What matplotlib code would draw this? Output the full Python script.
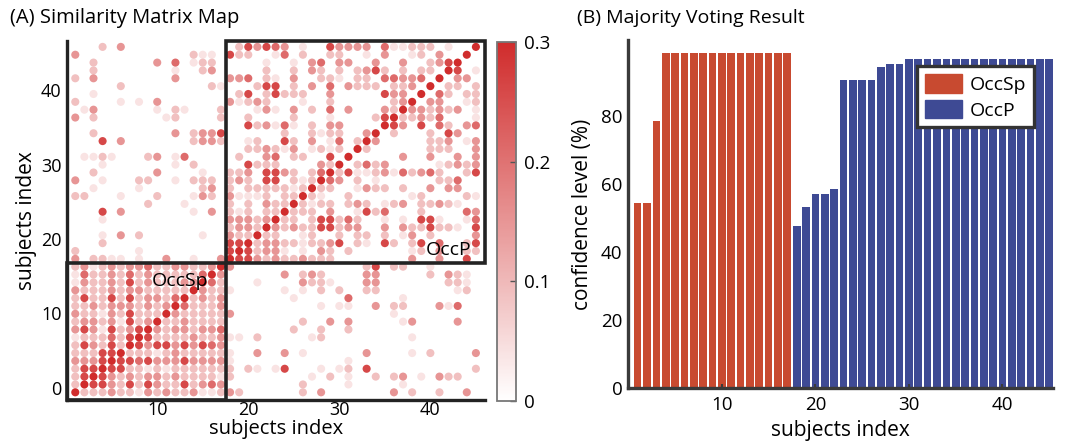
import numpy as np
import matplotlib
matplotlib.use("Agg")
import matplotlib.pyplot as plt
from matplotlib.colors import LinearSegmentedColormap
from matplotlib.patches import Rectangle, Patch

plt.rcParams['font.family'] = ['Open Sans', 'DejaVu Sans']

# ---- data ----
n_subj = 45
n_occsp = 17

# similarity levels (lower-left half, row: "col:level ...")
level_val = {1: 0.04, 2: 0.09, 3: 0.15, 4: 0.21, 5: 0.26, 6: 0.3}
lower_rows = {
    45: "4:2 6:3 19:2 20:5 21:3 22:5 23:4 24:3 26:1 29:5 30:3 31:3 32:3 33:3 35:4 36:1 37:1 38:2 39:2 40:2 42:1 45:6",
    44: "1:3 14:2 15:1 16:1 18:5 19:2 20:2 23:1 24:4 26:2 29:2 30:2 33:1 35:3 38:1 39:2 41:3 44:6",
    43: "3:2 10:3 12:4 14:1 15:2 16:2 22:1 25:1 27:3 28:4 30:3 31:3 34:3 37:3 40:2 41:3 42:5 43:6",
    42: "3:2 12:1 15:2 16:3 22:2 25:2 27:3 28:2 30:2 32:2 33:3 34:5 35:2 37:2 39:2 40:2 42:6",
    41: "1:2 3:3 12:3 18:3 19:3 20:4 22:2 23:1 25:3 28:2 29:2 30:1 32:2 33:2 35:4 36:4 37:3 38:3 39:4 41:6",
    40: "6:2 16:2 17:1 21:2 22:5 23:5 25:2 27:3 29:4 31:3 32:2 33:2 34:2 36:2 37:2 38:3 40:6",
    39: "3:1 19:2 20:5 22:2 23:5 24:2 25:2 26:2 29:3 35:5 36:3 37:3 39:6",
    38: "1:2 6:1 8:1 10:3 18:3 19:1 20:2 21:3 22:2 26:1 29:2 36:2 37:3 38:6",
    37: "2:1 3:3 10:1 12:2 13:1 17:2 21:1 22:3 23:1 25:3 27:2 29:4 31:3 35:3 36:2 37:6",
    36: "1:3 3:2 11:1 12:2 17:2 20:2 25:2 29:1 34:2 35:5 36:6",
    35: "20:5 21:2 22:3 23:1 24:4 25:1 27:2 29:3 30:3 35:6",
    34: "3:2 12:3 14:2 15:3 16:3 17:5 24:2 27:2 28:1 29:2 30:2 33:3 34:6",
    33: "4:5 6:3 14:2 15:3 16:3 17:2 20:1 21:2 24:5 25:2 27:3 29:1 30:4 32:2 33:6",
    32: "20:2 21:2 22:3 23:2 24:1 25:3 27:1 28:2 29:1 30:2 32:6",
    31: "2:1 3:1 4:2 5:1 9:2 10:3 12:1 13:4 19:2 22:3 23:4 25:2 26:2 29:5 31:6",
    30: "4:1 12:1 14:2 20:5 21:2 22:2 23:2 28:3 29:2 30:6",
    29: "3:2 10:3 15:1 18:2 19:2 20:3 22:5 23:5 24:3 25:2 27:2 28:4 29:6",
    28: "1:3 4:1 8:2 9:2 12:1 14:2 15:2 16:2 18:2 19:3 20:2 22:5 23:5 25:2 26:1 27:2 28:6",
    27: "3:1 8:1 15:2 16:3 18:2 20:2 21:2 22:2 23:2 24:2 25:1 26:2 27:6",
    26: "1:2 2:2 6:1 10:2 14:1 15:3 16:2 18:3 19:1 20:1 21:1 22:2 24:2 25:2 26:6",
    25: "9:2 13:1 18:2 20:2 22:3 23:2 24:2 25:6",
    24: "4:5 6:3 14:1 16:3 18:2 19:1 20:2 22:2 23:2 24:6",
    23: "4:1 18:3 19:3 20:3 21:2 22:3 23:6",
    22: "18:2 19:3 20:3 21:2 22:6",
    21: "4:1 6:3 8:2 15:1 18:3 19:2 20:2 21:6",
    20: "4:2 18:5 19:5 20:6",
    19: "1:2 8:1 18:5 19:6",
    18: "1:3 3:2 4:2 5:1 6:1 8:1 11:3 14:1 17:3 18:6",
    17: "1:2 2:3 3:1 4:2 5:3 6:2 7:3 8:3 9:4 10:2 11:2 12:3 13:3 14:2 15:2 16:3 17:6",
    16: "1:1 2:4 3:2 4:2 5:3 6:2 7:4 8:2 9:3 10:2 11:2 12:2 13:2 14:2 15:4 16:6",
    15: "1:1 2:3 3:2 4:2 5:3 6:2 7:5 8:2 9:3 10:2 11:2 12:2 13:3 14:3 15:6",
    14: "1:3 2:2 3:2 4:2 5:3 6:2 7:3 8:3 9:2 10:2 11:2 12:2 13:2 14:6",
    13: "1:2 2:5 3:2 4:2 5:5 6:2 7:5 8:2 9:3 10:3 11:2 12:4 13:6",
    12: "1:2 2:2 3:3 4:2 5:3 6:3 7:3 8:2 9:3 10:2 11:3 12:6",
    11: "1:3 2:2 3:2 4:1 5:3 6:2 7:5 8:2 9:2 10:2 11:6",
    10: "1:2 2:3 3:3 4:2 5:3 6:1 7:5 8:2 9:3 10:6",
    9: "1:3 2:5 3:3 4:1 5:5 6:2 7:3 8:5 9:6",
    8: "1:1 2:2 3:2 4:2 5:4 6:2 7:5 8:6",
    7: "1:2 2:5 3:3 4:2 5:5 6:2 7:6",
    6: "1:2 2:2 3:2 4:5 5:5 6:6",
    5: "1:3 2:3 3:3 4:5 5:6",
    4: "1:2 2:5 3:5 4:6",
    3: "1:2 2:5 3:6",
    2: "1:2 2:6",
    1: "1:6",
}

# majority voting confidence (%)
occsp_conf = [54.5, 54.5, 78.5, 98.8, 98.8, 98.8, 98.8, 98.8, 98.8, 98.8,
              98.8, 98.8, 98.8, 98.8, 98.8, 98.8, 98.8]
occp_conf = [47.8, 53.4, 57.1, 57.1, 58.6, 90.8, 90.8, 90.8, 90.8, 94.5,
             95.3, 95.3, 96.9, 96.9, 96.9, 96.9, 96.9, 96.9, 96.9, 96.9,
             96.9, 96.9, 96.9, 96.9, 96.9, 96.9, 96.9, 96.9]

# build symmetric matrix
sim = np.zeros((n_subj, n_subj))
for r, txt in lower_rows.items():
    for item in txt.split():
        c, l = item.split(':')
        sim[r - 1, int(c) - 1] = level_val[int(l)]
sim = np.maximum(sim, sim.T)

# ---- figure ----
W, H = 1075, 448
fig = plt.figure(figsize=(W / 100, H / 100), dpi=100)
dark = '#232323'

cmap = LinearSegmentedColormap.from_list('wr', ['#ffffff', '#d02c2c'])

# (A) similarity map
ax1 = fig.add_axes([67 / W, 48 / H, 418 / W, 359 / H])
rr, cc = np.nonzero(sim)
vv = sim[rr, cc]
order = np.argsort(vv)
sc = ax1.scatter(cc[order] + 1, rr[order] + 1, c=vv[order], cmap=cmap, vmin=0, vmax=0.3,
                 s=34, linewidths=0)
x0, x1 = 0.09, 46.0
y0, y1 = 0.02, 45.75
ax1.set_xlim(x0, x1)
ax1.set_ylim(y0, y1)
b = n_occsp + 0.5
ax1.add_patch(Rectangle((x0, y0), b - x0, b - y0, fill=False, ec=dark, lw=2.6, clip_on=False, zorder=5))
ax1.add_patch(Rectangle((b, b), x1 - b, y1 - b, fill=False, ec=dark, lw=2.6, clip_on=False, zorder=5))
ax1.text(12.5, 15.2, 'OccSp', fontsize=14, ha='center', va='center', zorder=6)
ax1.text(42.0, 19.1, 'OccP', fontsize=14, ha='center', va='center', zorder=6)
for s in ['top', 'right']:
    ax1.spines[s].set_visible(False)
for s in ['left', 'bottom']:
    ax1.spines[s].set_linewidth(2.4)
    ax1.spines[s].set_color(dark)
ax1.set_xticks([10, 20, 30, 40])
ax1.set_yticks([1.6, 11.1, 20.5, 30.0, 39.5])
ax1.set_yticklabels(['0', '10', '20', '30', '40'])
ax1.tick_params(length=0, labelsize=13)
ax1.tick_params(axis='x', pad=1)
ax1.tick_params(axis='y', pad=4)
ax1.set_xlabel('subjects index', fontsize=14.5, labelpad=0)
ax1.set_ylabel('subjects index', fontsize=15, labelpad=3)

cax = fig.add_axes([497 / W, 47 / H, 19 / W, 359 / H])
cb = fig.colorbar(sc, cax=cax, ticks=[0, 0.1, 0.2, 0.3])
cb.ax.set_yticklabels(['0', '0.1', '0.2', '0.3'])
cb.outline.set_edgecolor('#777777')
cb.outline.set_linewidth(1.3)
cax.tick_params(direction='in', length=4, width=1, color='#555555', labelsize=13.5, pad=6)

# (B) majority voting
ax2 = fig.add_axes([628 / W, 60 / H, 425 / W, 348 / H])
x_sp = np.arange(1, n_occsp + 1)
x_p = np.arange(n_occsp + 1, n_subj + 1)
ax2.bar(x_sp, occsp_conf, width=0.82, color='#c84a30', label='OccSp')
ax2.bar(x_p, occp_conf, width=0.82, color='#3e4a94', label='OccP')
ax2.set_xlim(-0.03, 45.4)
ax2.set_ylim(0, 102.5)
ax2.set_xticks([10, 20, 30, 40])
ax2.set_yticks([0, 20, 40, 60, 80])
for s in ['top', 'right']:
    ax2.spines[s].set_visible(False)
for s in ['left', 'bottom']:
    ax2.spines[s].set_linewidth(2.4)
    ax2.spines[s].set_color('#3a3a3a')
ax2.tick_params(axis='x', direction='in', length=3, width=1.5, color='#3a3a3a', labelsize=13.5, pad=6)
ax2.tick_params(axis='y', length=0, labelsize=13.5, pad=4)
ax2.set_xlabel('subjects index', fontsize=15, labelpad=4)
ax2.set_ylabel('confidence level (%)', fontsize=15, labelpad=6)
leg = ax2.legend(handles=[Patch(color='#c84a30', label='OccSp'), Patch(color='#3e4a94', label='OccP')],
                 loc='upper right', bbox_to_anchor=(0.955, 0.925), fontsize=14, fancybox=False,
                 framealpha=1, edgecolor='#333333', borderpad=0.4, handlelength=1.9, handleheight=1.1,
                 handletextpad=0.4, labelspacing=0.3, borderaxespad=0)
leg.get_frame().set_linewidth(2.4)

fig.text(10 / W, 1 - 18 / H, '(A) Similarity Matrix Map', fontsize=14.5, va='center', ha='left')
fig.text(577 / W, 1 - 18 / H, '(B) Majority Voting Result', fontsize=14, va='center', ha='left')

fig.savefig('out.png', dpi=100)
